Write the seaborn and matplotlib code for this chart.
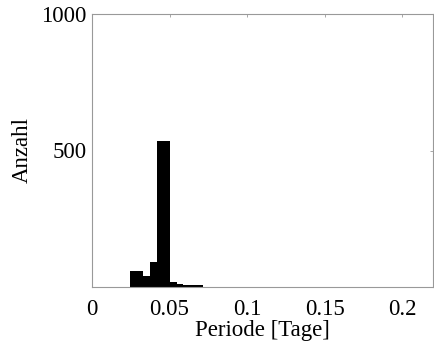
import numpy as np
import pandas as pd
import matplotlib
matplotlib.use("Agg")
import matplotlib.pyplot as plt
import seaborn as sns

# histogram bins (period in days)
bin_edges = [0.0245, 0.0288, 0.0331, 0.0374, 0.0417, 0.0460, 0.0503,
             0.0546, 0.0589, 0.0632, 0.0675, 0.0718]
counts = [60, 60, 40, 93, 535, 535, 18, 9, 6, 7, 6]
x_ticks = [0, 0.05, 0.1, 0.15, 0.2]
x_tick_labels = ["0", "0.05", "0.1", "0.15", "0.2"]
y_ticks = [500, 1000]

centers = [(a + b) / 2 for a, b in zip(bin_edges[:-1], bin_edges[1:])]
df = pd.DataFrame({"Periode": centers, "Anzahl": counts})

sns.set_style("white")
plt.rcParams['font.family'] = ['Liberation Serif', 'DejaVu Serif']
plt.rcParams['text.color'] = 'black'
plt.rcParams['axes.labelcolor'] = 'black'

fig = plt.figure(figsize=(4.34, 3.44), dpi=100)
ax = fig.add_axes([0.212, 0.166, 0.786, 0.793])

sns.histplot(data=df, x="Periode", weights="Anzahl", bins=bin_edges,
             color="black", edgecolor="black", linewidth=0, alpha=1, ax=ax)

ax.set_xlim(0, 0.22)
ax.set_ylim(0, 1000)
ax.set_xticks(x_ticks)
ax.set_xticklabels(x_tick_labels)
ax.set_yticks(y_ticks)
ax.tick_params(direction="in", length=2, width=0.6, color="#999999",
               labelcolor="black", top=True, right=True, labelsize=16.5)
ax.tick_params(axis="x", pad=9)
ax.tick_params(axis="y", pad=4)
for s in ax.spines.values():
    s.set_color("#999999")
    s.set_linewidth(0.8)

ax.set_xlabel("Periode [Tage]", fontsize=16.5, labelpad=0)
ax.set_ylabel("Anzahl", fontsize=16.5, labelpad=6)

fig.savefig("out.png", dpi=100)
